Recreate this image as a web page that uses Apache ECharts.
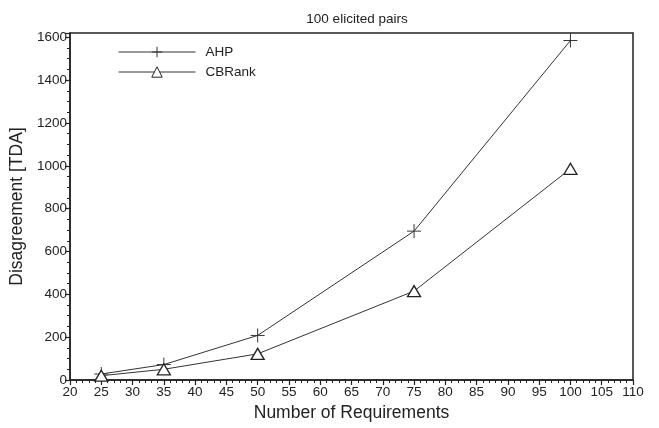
<!DOCTYPE html>
<html>
<head>
<meta charset="utf-8">
<script src="https://cdn.jsdelivr.net/npm/echarts@6/dist/echarts.min.js"></script>
<style>
  html, body { margin: 0; padding: 0; background: #fff; }
  #chart { width: 659px; height: 428px; }
</style>
</head>
<body>
<div id="chart"></div>
<script>
// data
let requirements = [25, 35, 50, 75, 100]
let ahpData = [28, 72, 208, 695, 1585]
let cbrankData = [20, 50, 122, 415, 986]

let seriesNames = ['AHP', 'CBRank']
let plusIcon = 'path://M0,-7 L0,7 M-7,0 L7,0'

function pairs(xs, ys) {
  return xs.map(function (x, i) { return [x, ys[i]] })
}

let chart = echarts.init(document.getElementById('chart'), null, { renderer: 'canvas' })

let font = 'Liberation Sans, Arial, sans-serif'

chart.setOption({
  animation: false,
  title: {
    text: '100 elicited pairs',
    left: 352,
    textAlign: 'center',
    top: 7,
    textStyle: { fontFamily: font, fontSize: 13.5, fontWeight: 'normal', color: '#222' }
  },
  legend: {
    orient: 'vertical',
    left: 118,
    top: 45,
    padding: 0,
    itemWidth: 77,
    itemHeight: 13,
    itemGap: 6,
    data: seriesNames,
    lineStyle: { width: 1 },
    itemStyle: { borderWidth: 1 },
    textStyle: { fontFamily: font, fontSize: 13.5, color: '#222', padding: [0, 0, 0, 5] }
  },
  grid: {
    left: 70,
    right: 26,
    top: 33,
    bottom: 48,
    show: true,
    borderColor: '#222',
    borderWidth: 1.5
  },
  xAxis: {
    type: 'value',
    min: 20,
    max: 110,
    interval: 5,
    name: 'Number of Requirements',
    nameLocation: 'middle',
    nameGap: 22,
    nameTextStyle: { fontFamily: font, fontSize: 17.5, color: '#222' },
    axisLine: { lineStyle: { color: '#222', width: 1.5 } },
    axisTick: { length: 5, lineStyle: { color: '#222', width: 1.2 } },
    minorTick: { show: true, splitNumber: 5, length: 3, lineStyle: { color: '#222', width: 1 } },
    axisLabel: { fontFamily: font, fontSize: 13.5, color: '#222', margin: 5 },
    splitLine: { show: false }
  },
  yAxis: {
    type: 'value',
    min: 0,
    max: 1620,
    interval: 200,
    name: 'Disagreement [TDA]',
    nameLocation: 'middle',
    nameGap: 43,
    nameTextStyle: { fontFamily: font, fontSize: 17.5, color: '#222' },
    axisLine: { show: true, lineStyle: { color: '#222', width: 1.5 } },
    axisTick: { show: true, length: 5, lineStyle: { color: '#222', width: 1.2 } },
    minorTick: { show: true, splitNumber: 4, length: 3, lineStyle: { color: '#222', width: 1 } },
    axisLabel: {
      fontFamily: font, fontSize: 13.5, color: '#222', margin: 3,
      showMaxLabel: false,
      formatter: function (v) { return v % 200 === 0 ? String(v) : '' }
    },
    splitLine: { show: false }
  },
  series: [{
    name: 'AHP',
    type: 'line',
    data: pairs(requirements, ahpData),
    symbol: plusIcon,
    symbolSize: 14,
    showAllSymbol: true,
    lineStyle: { color: '#333', width: 1 },
    itemStyle: { color: '#333', borderColor: '#333', borderWidth: 1 }
  }, {
    name: 'CBRank',
    type: 'line',
    data: pairs(requirements, cbrankData),
    symbol: 'triangle',
    symbolSize: [13, 11],
    showAllSymbol: true,
    lineStyle: { color: '#333', width: 1 },
    itemStyle: { color: '#fff', borderColor: '#222', borderWidth: 1.3 }
  }]
})
</script>
</body>
</html>
